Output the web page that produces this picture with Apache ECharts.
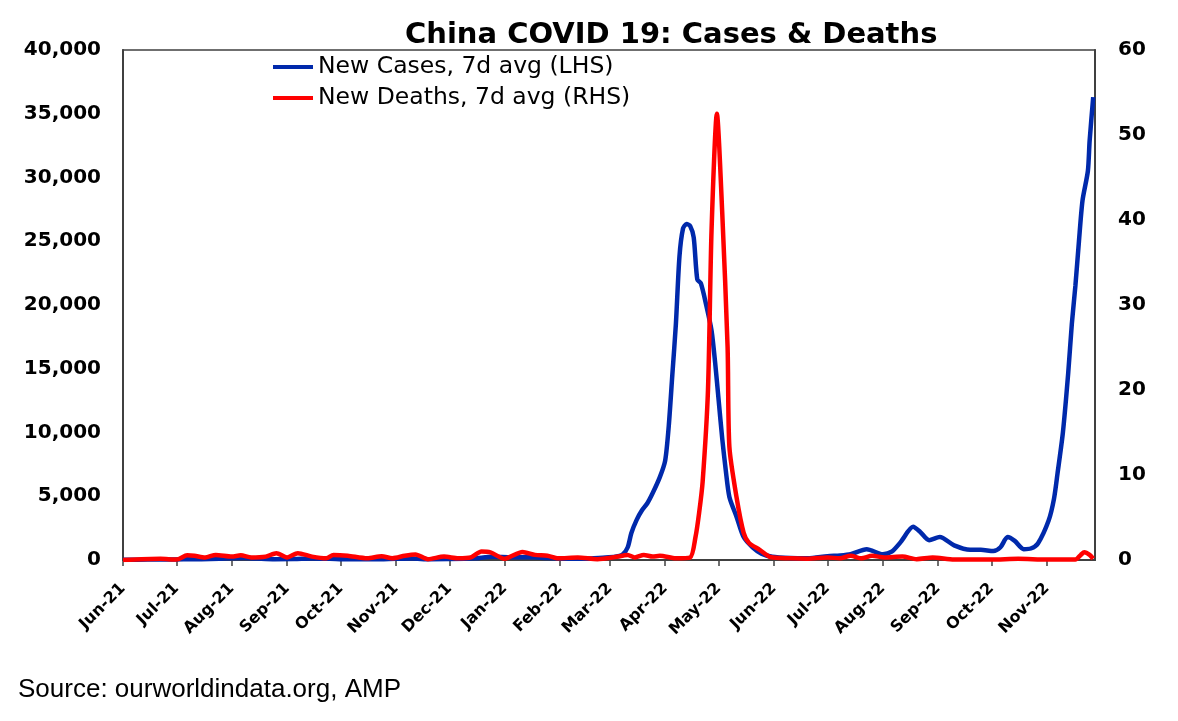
<!DOCTYPE html>
<html>
<head>
<meta charset="utf-8">
<title>China COVID 19: Cases & Deaths</title>
<script src="https://cdn.jsdelivr.net/npm/echarts@6.0.0/dist/echarts.min.js"></script>
<style>
  html, body { margin: 0; padding: 0; background: #fff; }
  #chart { width: 1178px; height: 721px; }
</style>
</head>
<body>
<div id="chart"></div>
<script>
// month tick positions on the x axis
var monthTicks = [
    '2021-06-01', '2021-07-01', '2021-08-01', '2021-09-01', '2021-10-01', '2021-11-01',
    '2021-12-01', '2022-01-01', '2022-02-01', '2022-03-01', '2022-04-01', '2022-05-01',
    '2022-06-01', '2022-07-01', '2022-08-01', '2022-09-01', '2022-10-01', '2022-11-01'
];
var monthNames = ['Jan', 'Feb', 'Mar', 'Apr', 'May', 'Jun', 'Jul', 'Aug', 'Sep', 'Oct', 'Nov', 'Dec'];

// New cases, 7 day average (left axis)
var newCases = [
    ['2021-06-01', 25], ['2021-06-15', 30], ['2021-06-25', 40], ['2021-07-05', 50],
    ['2021-07-15', 60], ['2021-07-25', 100], ['2021-08-01', 140], ['2021-08-08', 150],
    ['2021-08-15', 110], ['2021-08-25', 60], ['2021-09-05', 70], ['2021-09-15', 120],
    ['2021-09-25', 90], ['2021-10-05', 50], ['2021-10-20', 50], ['2021-11-01', 90],
    ['2021-11-10', 110], ['2021-11-20', 60], ['2021-12-01', 70], ['2021-12-15', 130],
    ['2021-12-25', 250], ['2022-01-05', 220], ['2022-01-15', 230], ['2022-01-25', 150],
    ['2022-02-05', 100], ['2022-02-15', 100], ['2022-02-25', 180], ['2022-03-04', 250],
    ['2022-03-08', 400], ['2022-03-11', 1000], ['2022-03-13', 2100], ['2022-03-16', 3150],
    ['2022-03-19', 3900], ['2022-03-22', 4450], ['2022-03-25', 5250], ['2022-03-29', 6500],
    ['2022-04-01', 7800], ['2022-04-03', 10500], ['2022-04-05', 14500], ['2022-04-07', 18500],
    ['2022-04-09', 23800], ['2022-04-11', 26000], ['2022-04-13', 26350], ['2022-04-15', 26200],
    ['2022-04-17', 25300], ['2022-04-19', 22000], ['2022-04-21', 21700], ['2022-04-24', 20000],
    ['2022-04-27', 18000], ['2022-04-29', 15500], ['2022-05-01', 12500], ['2022-05-03', 9500],
    ['2022-05-05', 7000], ['2022-05-07', 4950], ['2022-05-11', 3400], ['2022-05-15', 1800],
    ['2022-05-20', 1000], ['2022-05-25', 500], ['2022-05-31', 250], ['2022-06-10', 150],
    ['2022-06-20', 130], ['2022-07-01', 300], ['2022-07-08', 350], ['2022-07-14', 450],
    ['2022-07-23', 850], ['2022-08-01', 450], ['2022-08-06', 650], ['2022-08-11', 1400],
    ['2022-08-18', 2600], ['2022-08-22', 2200], ['2022-08-27', 1550], ['2022-09-02', 1800],
    ['2022-09-10', 1150], ['2022-09-19', 800], ['2022-09-25', 800], ['2022-10-02', 700],
    ['2022-10-06', 1000], ['2022-10-10', 1800], ['2022-10-14', 1500], ['2022-10-19', 850],
    ['2022-10-23', 900], ['2022-10-27', 1300], ['2022-11-02', 3100], ['2022-11-05', 4800],
    ['2022-11-07', 6800], ['2022-11-10', 10000], ['2022-11-13', 14700], ['2022-11-15', 18500],
    ['2022-11-17', 21500], ['2022-11-19', 25000], ['2022-11-21', 28200], ['2022-11-24', 30500],
    ['2022-11-25', 32900], ['2022-11-27', 36300]
];

// New deaths, 7 day average (right axis)
var newDeaths = [
    ['2021-06-01', 0], ['2021-06-22', 0.15], ['2021-07-01', 0.05], ['2021-07-07', 0.55],
    ['2021-07-11', 0.5], ['2021-07-17', 0.3], ['2021-07-23', 0.6], ['2021-08-01', 0.4],
    ['2021-08-06', 0.55], ['2021-08-12', 0.3], ['2021-08-20', 0.4], ['2021-08-26', 0.8],
    ['2021-09-01', 0.3], ['2021-09-07', 0.8], ['2021-09-15', 0.4], ['2021-09-23', 0.2],
    ['2021-09-27', 0.6], ['2021-10-05', 0.5], ['2021-10-16', 0.2], ['2021-10-24', 0.45],
    ['2021-10-30', 0.2], ['2021-11-06', 0.5], ['2021-11-12', 0.65], ['2021-11-19', 0.1],
    ['2021-11-28', 0.4], ['2021-12-06', 0.2], ['2021-12-13', 0.3], ['2021-12-19', 1.0],
    ['2021-12-24', 0.9], ['2022-01-01', 0.15], ['2022-01-11', 0.95], ['2022-01-18', 0.6],
    ['2022-01-25', 0.5], ['2022-01-31', 0.2], ['2022-02-11', 0.3], ['2022-02-22', 0.1],
    ['2022-03-04', 0.35], ['2022-03-11', 0.6], ['2022-03-15', 0.3], ['2022-03-20', 0.6],
    ['2022-03-25', 0.4], ['2022-03-29', 0.5], ['2022-04-07', 0.2], ['2022-04-15', 0.3],
    ['2022-04-18', 2.7], ['2022-04-20', 5.5], ['2022-04-22', 9.2], ['2022-04-25', 20],
    ['2022-04-27', 38.8], ['2022-04-30', 52.5], ['2022-05-03', 40.8], ['2022-05-06', 25],
    ['2022-05-07', 13.3], ['2022-05-11', 7.4], ['2022-05-15', 3.2], ['2022-05-18', 2],
    ['2022-05-24', 1.2], ['2022-05-30', 0.35], ['2022-06-10', 0.2], ['2022-06-20', 0.15],
    ['2022-07-01', 0.3], ['2022-07-08', 0.2], ['2022-07-14', 0.5], ['2022-07-20', 0.2],
    ['2022-07-26', 0.5], ['2022-08-02', 0.3], ['2022-08-12', 0.4], ['2022-08-20', 0.1],
    ['2022-08-29', 0.3], ['2022-09-10', 0.05], ['2022-10-01', 0.05], ['2022-10-16', 0.15],
    ['2022-11-01', 0.05], ['2022-11-17', 0.05], ['2022-11-20', 0.6], ['2022-11-22', 0.9],
    ['2022-11-25', 0.6], ['2022-11-27', 0.15]
];

function toTime(s) {
    return echarts.number.parseDate(s).getTime();
}

function monthLabel(val) {
    var d = new Date(val);
    return monthNames[d.getMonth()] + '-' + String(d.getFullYear()).slice(2);
}

var myChart = echarts.init(document.getElementById('chart'));

var labelFont = {
    color: '#000',
    fontFamily: 'DejaVu Sans',
    fontWeight: 'bold',
    fontSize: 20
};

var tickTimes = monthTicks.map(toTime);

var option = {
    backgroundColor: '#fff',
    animation: false,
    title: {
        text: 'China COVID 19: Cases & Deaths',
        left: 400,
        top: 16,
        textStyle: {
            color: '#000',
            fontFamily: 'DejaVu Sans',
            fontWeight: 'bold',
            fontSize: 29
        }
    },
    legend: {
        orient: 'vertical',
        left: 273,
        top: 55,
        padding: 0,
        itemWidth: 40,
        itemHeight: 4,
        itemGap: 7,
        icon: 'rect',
        textStyle: {
            color: '#000',
            fontFamily: 'DejaVu Sans',
            fontSize: 23.5,
            lineHeight: 24
        },
        data: ['New Cases, 7d avg (LHS)', 'New Deaths, 7d avg (RHS)']
    },
    graphic: [{
        type: 'text',
        left: 18,
        top: 677,
        style: {
            text: 'Source: ourworldindata.org, AMP',
            fill: '#000',
            font: '26px "Liberation Sans"'
        }
    }],
    grid: {
        left: 123,
        right: 83,
        top: 50,
        bottom: 161,
        show: true,
        borderColor: '#404040',
        borderWidth: 1.5
    },
    xAxis: {
        // timestamps on a plain value axis, ticks placed on month starts
        type: 'value',
        min: toTime('2021-06-01'),
        max: toTime('2022-11-28'),
        splitLine: { show: false },
        axisLine: { show: true, onZero: false, lineStyle: { color: '#404040', width: 2 } },
        axisTick: {
            show: true,
            length: 6,
            lineStyle: { color: '#404040', width: 1.5 },
            customValues: tickTimes
        },
        axisLabel: {
            rotate: 45,
            margin: 26,
            color: '#000',
            fontFamily: 'DejaVu Sans',
            fontWeight: 'bold',
            fontSize: 16,
            showMinLabel: true,
            showMaxLabel: true,
            hideOverlap: false,
            customValues: tickTimes,
            formatter: monthLabel
        }
    },
    yAxis: [
        {
            type: 'value',
            min: 0,
            max: 40000,
            interval: 5000,
            position: 'left',
            splitLine: { show: false },
            axisLine: { show: true, lineStyle: { color: '#404040', width: 2 } },
            axisTick: { show: false },
            axisLabel: Object.assign({
                margin: 22,
                formatter: function (v) { return v.toLocaleString('en-US'); }
            }, labelFont)
        },
        {
            type: 'value',
            min: 0,
            max: 60,
            interval: 10,
            position: 'right',
            splitLine: { show: false },
            axisLine: { show: true, lineStyle: { color: '#404040', width: 2 } },
            axisTick: { show: false },
            axisLabel: Object.assign({ margin: 23 }, labelFont)
        }
    ],
    series: [
        {
            name: 'New Cases, 7d avg (LHS)',
            type: 'line',
            yAxisIndex: 0,
            smooth: 0.25,
            showSymbol: false,
            color: '#0029AB',
            lineStyle: { width: 4.5, color: '#0029AB' },
            data: newCases.map(function (p) { return [toTime(p[0]), p[1]]; })
        },
        {
            name: 'New Deaths, 7d avg (RHS)',
            type: 'line',
            yAxisIndex: 1,
            smooth: 0.25,
            showSymbol: false,
            color: '#FF0000',
            lineStyle: { width: 4.5, color: '#FF0000' },
            data: newDeaths.map(function (p) { return [toTime(p[0]), p[1]]; })
        }
    ]
};

myChart.setOption(option);
</script>
</body>
</html>
